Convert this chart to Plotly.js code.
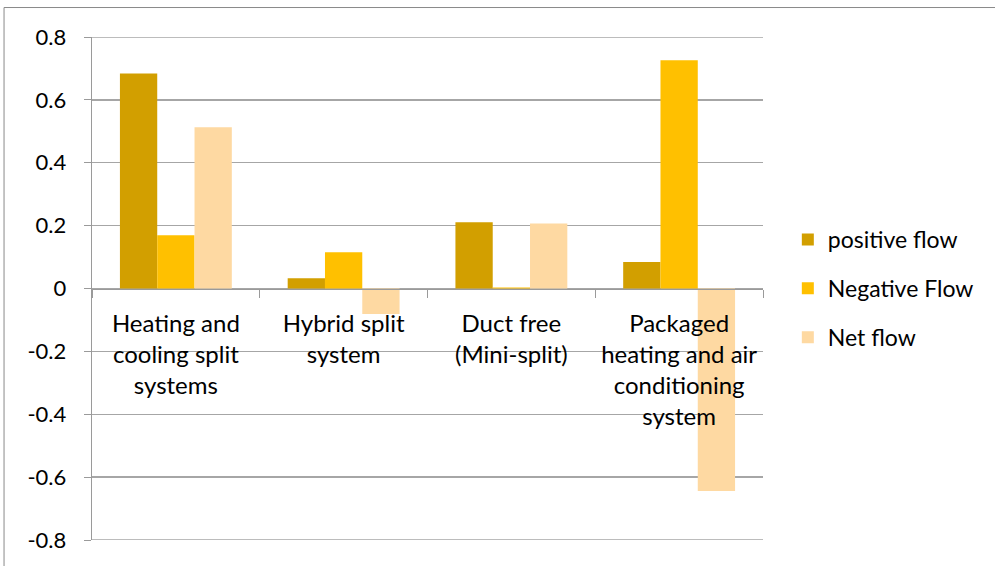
<!DOCTYPE html>
<html>
<head>
<meta charset="utf-8">
<script src="https://cdn.plot.ly/plotly-3.0.1.min.js"></script>
<style>html,body{margin:0;padding:0;background:#fff;}#chart{width:995px;height:566px;}</style>
</head>
<body>
<div id="chart"></div>
<script>
const categories = [
  "Heating and<br>cooling split<br>systems",
  "Hybrid split<br>system",
  "Duct free<br>(Mini-split)",
  "Packaged<br>heating and air<br>conditioning<br>system"
];
const positiveFlow = [0.684, 0.033, 0.211, 0.084];
const negativeFlow = [0.169, 0.115, 0.003, 0.726];
const netFlow = [0.513, -0.081, 0.207, -0.644];
const seriesNames = ["positive flow", "Negative Flow", "Net flow"];
const seriesColors = ["#D29F00", "#FFC000", "#FED9A2"];
const yTickVals = [-0.8, -0.6, -0.4, -0.2, 0, 0.2, 0.4, 0.6, 0.8];
const yTickText = ["-0.8", "-0.6", "-0.4", "-0.2", "0", "0.2", "0.4", "0.6", "0.8"];
const yRange = [-0.8, 0.8];

const FONT = "Lato, 'Open Sans', sans-serif";
const GRID = "#a6a6a6";
const series = [positiveFlow, negativeFlow, netFlow];
const traces = series.map((vals, i) => ({
  type: "bar",
  x: categories,
  y: vals,
  name: seriesNames[i],
  legendgroup: "g" + i,
  marker: {color: seriesColors[i], line: {width: 0}}
}));

// edge gridlines (Plotly omits gridlines that sit on the plot boundary)
const edgeGrid = yRange.map(v => ({
  type: "line", xref: "paper", yref: "y",
  x0: 0, x1: 1, y0: v, y1: v,
  line: {color: GRID, width: 1.3}, layer: "below"
}));

const layout = {
  width: 995,
  height: 566,
  margin: {l: 92, r: 232, t: 37, b: 26, pad: 0},
  paper_bgcolor: "#ffffff",
  plot_bgcolor: "#ffffff",
  barmode: "group",
  bargap: 0.333,
  bargroupgap: 0,
  font: {family: FONT, color: "#000000"},
  showlegend: true,
  legend: {
    x: 1.037, xanchor: "left", y: 0.5, yanchor: "middle",
    font: {family: FONT, size: 23, color: "#000"},
    traceorder: "grouped",
    tracegroupgap: 16,
    bgcolor: "rgba(0,0,0,0)"
  },
  xaxis: {
    type: "category",
    anchor: "free",
    position: 0.5,
    showline: true,
    linecolor: "#9a9a9a",
    linewidth: 1.3,
    showgrid: false,
    zeroline: false,
    ticks: "outside",
    tickson: "boundaries",
    ticklen: 8,
    tickcolor: "#9a9a9a",
    tickfont: {family: FONT, size: 24, color: "#000"},
    ticklabelstandoff: 13,
    fixedrange: true
  },
  yaxis: {
    range: yRange,
    tickvals: yTickVals,
    ticktext: yTickText,
    showline: true,
    linecolor: "#9a9a9a",
    linewidth: 1.3,
    showgrid: true,
    gridcolor: GRID,
    gridwidth: 1.3,
    zeroline: false,
    ticks: "outside",
    ticklen: 7,
    tickcolor: "#9a9a9a",
    tickfont: {family: FONT, size: 22, color: "#000"},
    ticklabelstandoff: 13,
    fixedrange: true
  },
  shapes: [{
    type: "rect", xref: "paper", yref: "paper",
    x0: -0.1311, x1: 1.6, y0: -0.5, y1: 1.0586,
    line: {color: "#8a8a8a", width: 1}, fillcolor: "rgba(0,0,0,0)", layer: "below"
  }].concat(edgeGrid)
};

Plotly.newPlot("chart", traces, layout, {staticPlot: true, displayModeBar: false});
</script>
</body>
</html>
